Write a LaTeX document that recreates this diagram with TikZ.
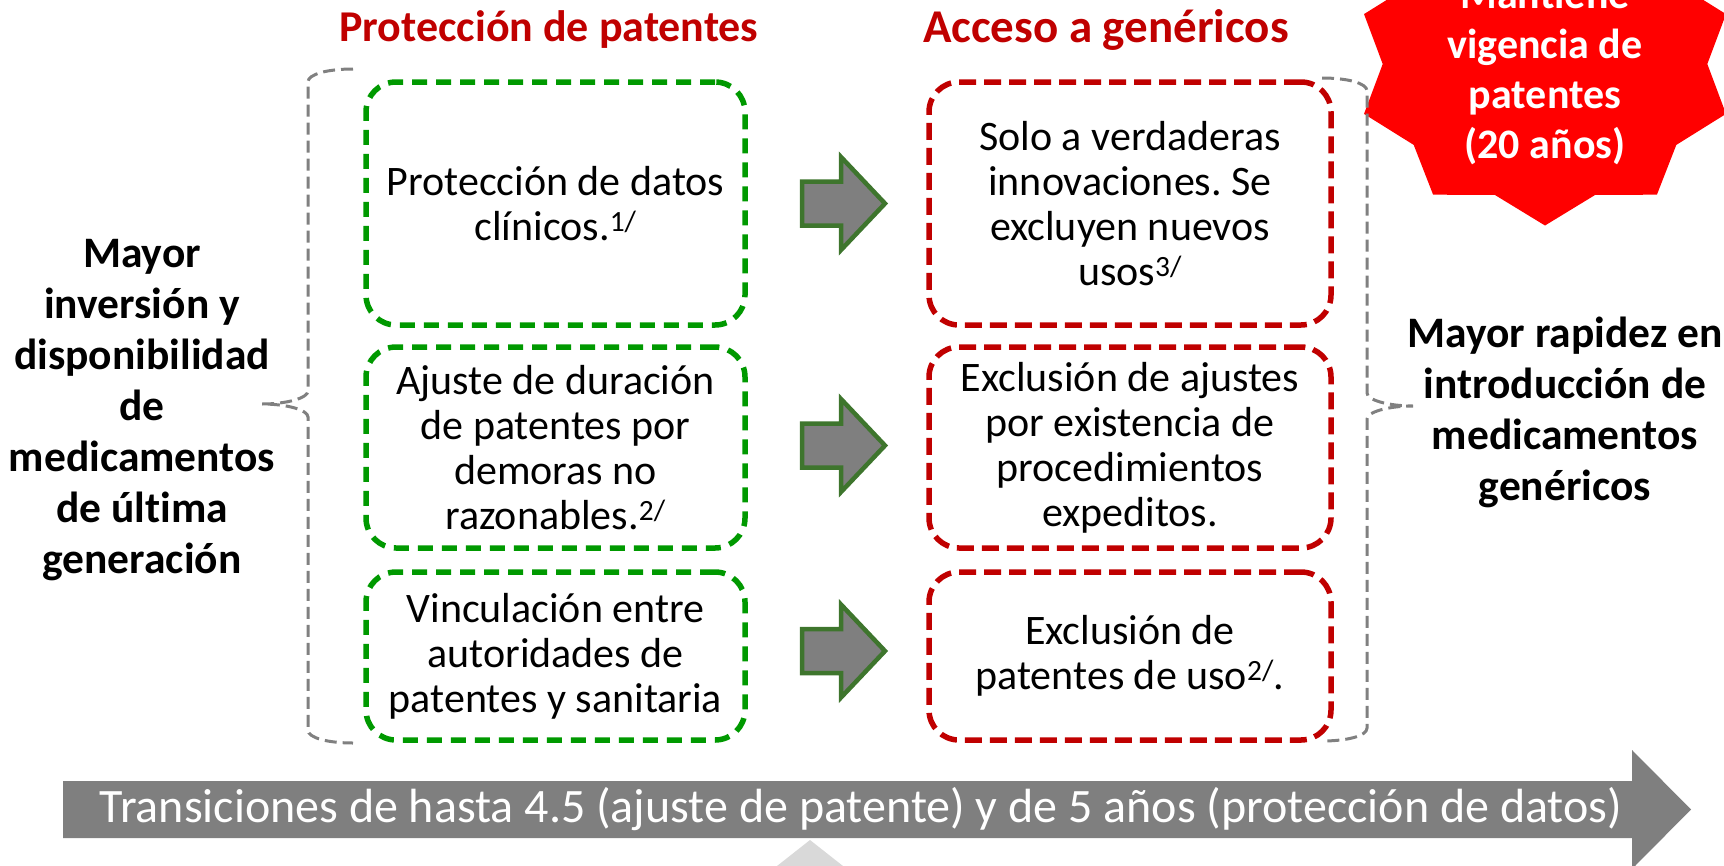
\documentclass[tikz,border=0pt]{standalone}
\usepackage{fontspec}
\setmainfont{Carlito}[Ligatures=NoCommon]
\frenchspacing
\usetikzlibrary{calc}
\definecolor{darkred}{RGB}{192,0,0}
\definecolor{boxgreen}{RGB}{0,153,0}
\definecolor{arrowgreen}{RGB}{62,117,45}
\definecolor{midgray}{RGB}{127,127,127}
\definecolor{bracegray}{RGB}{128,128,128}
\definecolor{starred}{RGB}{255,0,0}
\definecolor{faintgray}{RGB}{217,217,217}
\begin{document}
\begin{tikzpicture}[x=1pt,y=-1pt,
  boxtext/.style={align=center,font=\fontsize{42}{45}\selectfont,inner sep=0pt,rounded corners=30pt,line width=5.5pt},
  greenbox/.style={boxtext,draw=boxgreen,dash pattern=on 15pt off 9pt,minimum width=379pt},
  redbox/.style={boxtext,draw=darkred,dash pattern=on 17pt off 8pt,minimum width=402pt},
  coltitle/.style={text=darkred,font=\fontsize{44}{50}\selectfont\bfseries},
  sidetext/.style={align=center,font=\fontsize{43.5}{51}\selectfont\bfseries},
  brace/.style={draw=bracegray,line width=3pt,dash pattern=on 12pt off 6pt},
  barrow/.style={fill=midgray,draw=arrowgreen,line width=4.5pt,line join=miter},
  blockarrow/.pic={\path[barrow] (-41.5,-22) -- (-2.5,-22) -- (-2.5,-46.5) -- (41.5,0) -- (-2.5,46.5) -- (-2.5,22) -- (-41.5,22) -- cycle;}
]
\useasboundingbox (0,0) rectangle (1724,865);
\clip (0,0) rectangle (1724,865);

% titles
\node[coltitle] (t1) at (549,30) {Protección de patentes};
\node[coltitle,font=\fontsize{47}{50}\selectfont\bfseries] (t2) at (1106,30) {Acceso a genéricos};

% star
\fill[starred] (1545,225.5) -- (1595.2,194.9) -- (1656.9,194.7) -- (1676.3,144.9) -- (1726,113.9) -- (1707.3,64) -- (1726,14.1) -- (1676.3,-16.9) -- (1656.9,-66.7) -- (1595.2,-66.9) -- (1545,-97.5) -- (1494.8,-66.9) -- (1433.1,-66.7) -- (1413.7,-16.9) -- (1364,14.1) -- (1382.7,64) -- (1364,113.9) -- (1413.7,144.9) -- (1433.1,194.7) -- (1494.8,194.9) -- cycle;
\node[align=center,text=white,font=\fontsize{42}{50}\selectfont\bfseries] (startext) at (1545,72) {Mantiene\\vigencia de\\patentes\\(20 años)};

% boxes
\node[greenbox,minimum height=243pt] (g1) at (555.5,203.5) {Protección de datos\\clínicos.\textsuperscript{1/}};
\node[greenbox,minimum height=201pt] (g2) at (555.5,447.5) {Ajuste de duración\\de patentes por\\demoras no\\razonables.\textsuperscript{2/}};
\node[greenbox,minimum height=168pt] (g3) at (555.5,656) {Vinculación entre\\autoridades de\\patentes y sanitaria};
\node[redbox,minimum height=243pt] (r1) at (1130,203.5) {Solo a verdaderas\\innovaciones. Se\\excluyen nuevos\\usos\textsuperscript{3/}};
\node[redbox,minimum height=201pt] (r2) at (1130,447.5) {Exclusión de ajustes\\por existencia de\\procedimientos\\expeditos.};
\node[redbox,minimum height=168pt] (r3) at (1130,656) {Exclusión de\\patentes de uso\textsuperscript{2/}.};

% block arrows between boxes
\pic at ($(g1.east)!0.5!(r1.west)+(6.5,0)$) {blockarrow};
\pic at ($(g2.east)!0.5!(r2.west)+(6.5,-2)$) {blockarrow};
\pic at ($(g3.east)!0.5!(r3.west)+(6.5,-5)$) {blockarrow};

% braces
\path[brace] (353,69) .. controls (328,69) and (308,74) .. (308,82) -- (308,391) .. controls (308,398) and (287,404) .. (262,404) .. controls (287,404) and (308,410) .. (308,417) -- (308,730) .. controls (308,738) and (328,743) .. (353,743);
\path[brace] (1322,78) .. controls (1347,78) and (1367,83) .. (1367,91) -- (1367,393) .. controls (1367,400) and (1388,406) .. (1413,406) .. controls (1388,406) and (1367,412) .. (1367,419) -- (1367,728) .. controls (1367,736) and (1347,741) .. (1322,741);

% side texts
\node[sidetext] (lefttext) at (142,410) {Mayor\\inversión y\\disponibilidad\\de\\medicamentos\\de última\\generación};
\node[sidetext] (righttext) at (1565,412) {Mayor rapidez en\\introducción de\\medicamentos\\genéricos};

% faint shape and bottom arrow
\fill[faintgray] (810,840) -- (843,866) -- (777,866) -- cycle;
\fill[midgray] (63,781) -- (1632,781) -- (1632,750) -- (1691,809.5) -- (1632,869) -- (1632,838) -- (63,838) -- cycle;
\node[text=white,font=\fontsize{48}{50}\selectfont] (transtext) at (861,809.5) {Transiciones de hasta 4.5 (ajuste de patente) y de 5 años (protección de datos)};
\end{tikzpicture}
\end{document}
